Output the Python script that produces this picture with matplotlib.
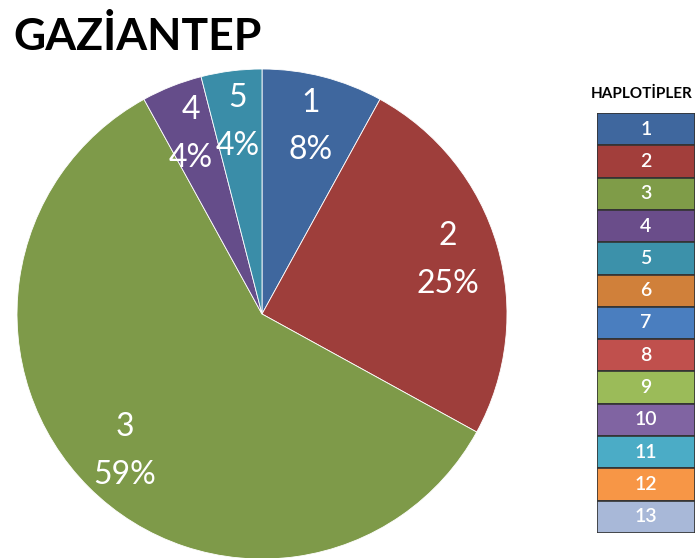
import matplotlib
matplotlib.use('Agg')
import matplotlib.pyplot as plt

plt.rcParams['font.family'] = ['Lato', 'DejaVu Sans']

# pie data (Gaziantep)
slice_names = ['1', '2', '3', '4', '5']
slice_pcts = [8, 25, 59, 4, 4]
slice_colors = ['#3F679E', '#9E3E3B', '#7E9A49', '#654D8A', '#3A8DA8']

# legend: all haplotypes
haplo_names = [str(i) for i in range(1, 14)]
haplo_colors = ['#3F679E', '#A23E3B', '#7F9C48', '#6A4D8A', '#3C91AA', '#D0803A',
                '#4A7EBF', '#C0504D', '#9BBB59', '#8064A2', '#4BACC6', '#F79646',
                '#A8B8D8']

W, H = 699, 558
fig = plt.figure(figsize=(W / 100, H / 100), dpi=100)

# pie
ax = fig.add_axes([17 / W, -1 / H, 490 / W, 490 / H])
wedges, _, autotexts = ax.pie(slice_pcts, colors=slice_colors, startangle=90, counterclock=False,
                              autopct=lambda p: '', pctdistance=0.79,
                              wedgeprops=dict(edgecolor='white', linewidth=0.6))
for t, name, pct in zip(autotexts, slice_names, slice_pcts):
    t.set_text('{}\n{}%'.format(name, pct))
    t.set_color('white')
    t.set_fontsize(23)
    t.set_linespacing(1.72)
    t.set_multialignment('center')
ax.set_xlim(-1, 1)
ax.set_ylim(-1, 1)

fig.text(13 / W, 1 - 50 / H, 'GAZİANTEP', fontsize=32, fontweight='bold', ha='left', va='baseline')

# legend boxes
lax = fig.add_axes([597 / W, 1 - 533 / H, 98 / W, 420 / H])
ypos = list(range(len(haplo_names)))
lax.barh(ypos, [1] * len(ypos), height=1, left=0, color=haplo_colors,
         edgecolor='#333333', linewidth=1.2)
for y, name in zip(ypos, haplo_names):
    lax.text(0.5, y, name, ha='center', va='center', color='white', fontsize=14,
             fontweight='semibold')
lax.set_xlim(0, 1)
lax.set_ylim(len(ypos) - 0.5, -0.5)
lax.axis('off')

fig.text(642 / W, 1 - 98 / H, 'HAPLOTİPLER', fontsize=11, fontweight='bold', ha='center', va='baseline')

fig.savefig('out.png', dpi=100)
